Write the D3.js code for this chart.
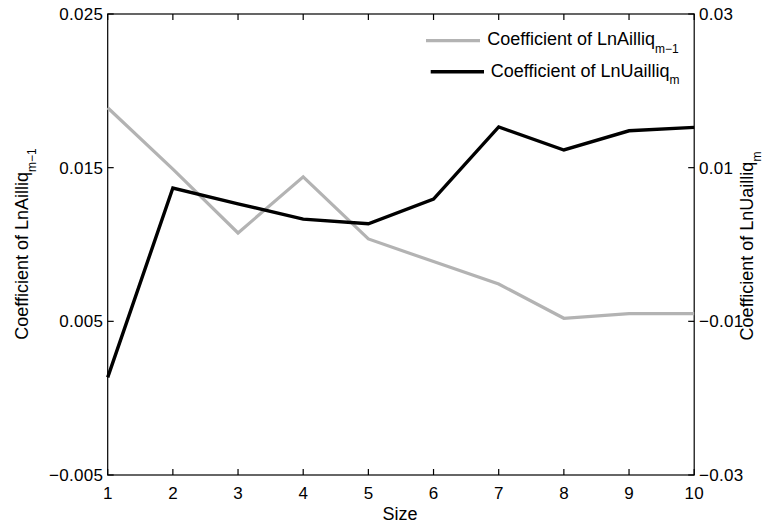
<!DOCTYPE html>
<html><head><meta charset="utf-8">
<script src="https://cdn.jsdelivr.net/npm/d3@7"></script>
<style>body{margin:0;background:#fff}svg{display:block}text{font-family:"Liberation Sans",Arial,sans-serif;fill:#000}</style>
</head><body><svg id="c" width="763" height="526"></svg>
<script>
const sizes = [1,2,3,4,5,6,7,8,9,10];
const ailliqCoef = [0.0189,0.0149,0.01075,0.0144,0.01036,0.00889,0.00743,0.0052,0.0055,0.0055];
const uailliqCoef = [-0.0173,0.00735,0.0053,0.0033,0.0027,0.0059,0.0153,0.0123,0.0148,0.01525];
const xTicks = [1,2,3,4,5,6,7,8,9,10];
const leftTicks = [-0.005,0.005,0.015,0.025];
const rightTicks = [-0.03,-0.01,0.01,0.03];
const leftTickLabels = ["\u22120.005","0.005","0.015","0.025"];
const rightTickLabels = ["\u22120.03","\u22120.01","0.01","0.03"];

const svg = d3.select("#c");
const L=107.7, R=694.2, T=14, B=475;
const x = d3.scaleLinear().domain([1,10]).range([L,R]);
const yL = d3.scaleLinear().domain([-0.005,0.025]).range([B,T]);
const yR = d3.scaleLinear().domain([-0.03,0.03]).range([B,T]);
const tk=6, fs=17, ls=0.3, lfs=18;

svg.append("rect").attr("x",L).attr("y",T).attr("width",R-L).attr("height",B-T)
  .attr("fill","none").attr("stroke","#000").attr("stroke-width",1.2);

const g = svg.append("g").attr("stroke","#000").attr("stroke-width",1.2);
xTicks.forEach(v=>{
  g.append("line").attr("x1",x(v)).attr("x2",x(v)).attr("y1",B).attr("y2",B-tk);
  g.append("line").attr("x1",x(v)).attr("x2",x(v)).attr("y1",T).attr("y2",T+tk);
});
leftTicks.forEach(v=>{
  g.append("line").attr("x1",L).attr("x2",L+tk).attr("y1",yL(v)).attr("y2",yL(v));
});
rightTicks.forEach(v=>{
  g.append("line").attr("x1",R).attr("x2",R-tk).attr("y1",yR(v)).attr("y2",yR(v));
});
xTicks.forEach(v=>{
  svg.append("text").attr("x",x(v)+ls/2).attr("y",498.5).attr("text-anchor","middle")
    .attr("font-size",fs).attr("letter-spacing",ls).text(v);
});
leftTicks.forEach((v,i)=>{
  svg.append("text").attr("x",103+ls).attr("y",yL(v)+6).attr("text-anchor","end")
    .attr("font-size",fs).attr("letter-spacing",ls).text(leftTickLabels[i]);
});
rightTicks.forEach((v,i)=>{
  svg.append("text").attr("x",699).attr("y",yR(v)+6).attr("text-anchor","start")
    .attr("font-size",fs).attr("letter-spacing",ls).text(rightTickLabels[i]);
});

const lineL = d3.line().x((d,i)=>x(sizes[i])).y(d=>yL(d));
const lineR = d3.line().x((d,i)=>x(sizes[i])).y(d=>yR(d));
svg.append("path").datum(ailliqCoef).attr("d",lineL).attr("fill","none")
  .attr("stroke","#b3b3b3").attr("stroke-width",3.2);
svg.append("path").datum(uailliqCoef).attr("d",lineR).attr("fill","none")
  .attr("stroke","#000").attr("stroke-width",3.4);

svg.append("text").attr("x",400).attr("y",520).attr("text-anchor","middle").attr("font-size",lfs).text("Size");
function subLabel(sel, main, sub){
  sel.append("tspan").text(main);
  sel.append("tspan").attr("dy",7.5).attr("font-size",12).text(sub);
}
const yl = svg.append("text").attr("transform","translate(28,244) rotate(-90)")
  .attr("text-anchor","middle").attr("font-size",lfs);
subLabel(yl,"Coefficient of LnAilliq","m\u22121");
const yr = svg.append("text").attr("transform","translate(753,246) rotate(-90)")
  .attr("text-anchor","middle").attr("font-size",lfs);
subLabel(yr,"Coefficient of LnUailliq","m");

svg.append("line").attr("x1",426).attr("x2",480).attr("y1",40.7).attr("y2",40.7)
  .attr("stroke","#b3b3b3").attr("stroke-width",3.2);
svg.append("line").attr("x1",430.7).attr("x2",484).attr("y1",71.7).attr("y2",71.7)
  .attr("stroke","#000").attr("stroke-width",3.4);
const t1 = svg.append("text").attr("x",487.3).attr("y",45).attr("font-size",lfs);
subLabel(t1,"Coefficient of LnAilliq","m\u22121");
const t2 = svg.append("text").attr("x",490.7).attr("y",76.7).attr("font-size",lfs);
subLabel(t2,"Coefficient of LnUailliq","m");
</script></body></html>
